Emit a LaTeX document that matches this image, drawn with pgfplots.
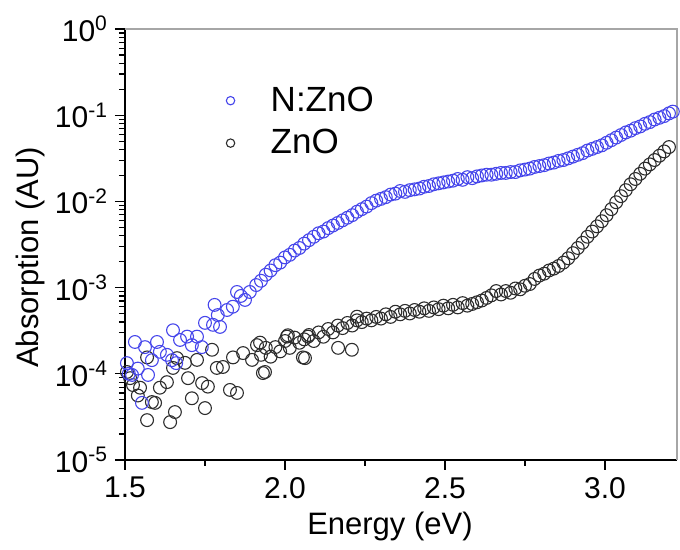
\documentclass[border=0pt]{standalone}
\usepackage{pgfplots}
\pgfplotsset{compat=1.18}
\usepackage{fontspec}
\setmainfont{Liberation Sans}
\definecolor{nzno}{RGB}{70,70,235}
\definecolor{zno}{RGB}{45,45,45}

\begin{document}
\begin{tikzpicture}
\begin{axis}[
  scale only axis, width=276pt, height=215.5pt,
  ymode=log, xmin=1.5, xmax=3.225, ymin=1e-5, ymax=1,
  axis x line*=bottom, axis y line*=left,
  axis line style={line width=0.75pt, black},
  xtick={1.5,2.0,2.5,3.0}, xticklabels={1.5,2.0,2.5,3.0},
  minor x tick num=1,
  ytick={1e-5,1e-4,1e-3,1e-2,1e-1,1},
  yticklabels={10\textsuperscript{-5},10\textsuperscript{-4},10\textsuperscript{-3},10\textsuperscript{-2},10\textsuperscript{-1},10\textsuperscript{0}},
  tick align=outside, major tick length=5pt, minor tick length=3pt,
  tick style={line width=0.6pt, black},
  ticklabel style={font=\fontsize{15}{17}\selectfont},
  xlabel={Energy (eV)}, ylabel={Absorption (AU)},
  label style={font=\fontsize{15.5}{17}\selectfont},
  xlabel style={at={(axis description cs:0.48,-0.155)}, anchor=center},
  ylabel style={at={(axis description cs:-0.172,0.47)}, anchor=center},
  reverse legend,
  legend cell align=left,
  legend style={at={(rel axis cs:0.172,0.885)}, anchor=north west, draw=none, fill=none,
    font=\fontsize{17.5}{19}\selectfont, row sep=3.5pt},
  legend image post style={mark size=2.1pt},
  clip=false,
]
\draw[gray!70, line width=0.6pt] (rel axis cs:0,1) -- (rel axis cs:1,1) -- (rel axis cs:1,0);

% ZnO
\addplot[only marks, mark=o, mark size=3.2pt, mark options={draw=zno, fill=white, line width=0.55pt}] coordinates {
(1.506,1.05e-4) (1.516,8.9e-5) (1.525,7.4e-5) (1.54,5.6e-5) (1.547,6.9e-5) (1.569,1.55e-4) (1.569,2.9e-5)
(1.584,4.7e-5) (1.594,4.6e-5) (1.609,6.9e-5) (1.631,8.0e-5) (1.641,2.75e-5) (1.65,1.17e-4) (1.656,3.6e-5)
(1.6625,1.52e-4) (1.6875,1.34e-4) (1.697,8.9e-5) (1.709,5.2e-5) (1.725,1.45e-4) (1.741,7.8e-5) (1.75,4.0e-5)
(1.759,7.1e-5) (1.772,1.9e-4) (1.787,1.17e-4) (1.806,1.2e-4) (1.828,6.5e-5) (1.8375,1.55e-4) (1.85,6.0e-5)
(1.869,1.74e-4) (1.897,1.45e-4) (1.9125,2.15e-4) (1.922,2.3e-4) (1.931,1.02e-4) (1.9375,1.05e-4)
(2.006,2.7e-4) (2.009,2.8e-4) (2.056,1.55e-4) (2.0625,1.52e-4) (2.072,2.7e-4) (2.166,2.0e-4) (2.209,1.9e-4)
(2.225,4.6e-4)
(1.925,1.66e-4) (1.94,2.00e-4) (1.955,1.58e-4) (1.97,2.04e-4) (1.985,1.82e-4) (2.00,2.40e-4) (2.015,2.00e-4)
(2.03,2.63e-4) (2.045,2.29e-4) (2.06,2.51e-4) (2.075,2.82e-4) (2.09,2.40e-4) (2.105,3.02e-4) (2.12,2.69e-4)
(2.135,3.31e-4) (2.15,3.02e-4) (2.165,3.63e-4) (2.18,3.39e-4) (2.195,3.89e-4) (2.21,3.63e-4) (2.225,4.17e-4)
(2.24,3.98e-4) (2.255,4.37e-4) (2.27,4.17e-4) (2.285,4.57e-4) (2.30,4.37e-4) (2.315,4.90e-4) (2.33,4.57e-4)
(2.345,5.25e-4) (2.36,4.90e-4) (2.375,5.37e-4) (2.39,5.01e-4) (2.405,5.50e-4) (2.42,5.25e-4) (2.435,5.75e-4)
(2.45,5.37e-4) (2.465,5.89e-4) (2.48,5.62e-4) (2.495,6.17e-4) (2.51,5.75e-4) (2.525,6.31e-4) (2.54,5.89e-4)
(2.555,6.61e-4) (2.57,6.17e-4) (2.585,6.46e-4) (2.60,6.76e-4) (2.615,7.08e-4) (2.63,7.59e-4) (2.645,8.13e-4)
(2.66,9.12e-4) (2.675,8.32e-4) (2.69,9.12e-4) (2.705,8.71e-4) (2.72,9.77e-4) (2.735,9.55e-4) (2.75,1.05e-3)
(2.765,1.10e-3) (2.78,1.26e-3) (2.795,1.38e-3) (2.81,1.45e-3) (2.825,1.58e-3) (2.84,1.66e-3) (2.855,1.78e-3)
(2.87,1.95e-3) (2.885,2.19e-3) (2.90,2.51e-3) (2.915,2.88e-3) (2.93,3.31e-3) (2.945,3.89e-3) (2.96,4.47e-3)
(2.975,5.13e-3) (2.99,5.89e-3) (3.005,6.92e-3) (3.02,8.13e-3) (3.035,9.77e-3) (3.05,1.15e-2) (3.065,1.35e-2)
(3.08,1.58e-2) (3.095,1.82e-2) (3.11,2.09e-2) (3.125,2.40e-2) (3.14,2.69e-2) (3.155,3.02e-2) (3.17,3.39e-2)
(3.185,3.80e-2) (3.20,4.27e-2)
};
\addlegendentry{\hspace{16pt}ZnO}

% N:ZnO
\addplot[only marks, mark=o, mark size=3.2pt, mark options={draw=nzno, fill=white, line width=0.55pt}] coordinates {
(1.506,1.33e-4) (1.512,1.0e-4) (1.522,9.7e-5) (1.531,2.34e-4) (1.54,1.15e-4) (1.553,4.6e-5) (1.5625,2.04e-4)
(1.572,9.7e-5) (1.584,1.44e-4) (1.60,2.34e-4) (1.609,1.8e-4) (1.631,1.66e-4) (1.647,1.44e-4) (1.65,3.2e-4)
(1.66,1.33e-4) (1.672,2.47e-4) (1.694,2.7e-4) (1.709,2.15e-4) (1.725,2.7e-4) (1.74,2.04e-4) (1.75,3.9e-4)
(1.775,3.7e-4) (1.78,6.3e-4) (1.79,4.8e-4) (1.797,3.5e-4) (1.819,5.5e-4) (1.837,6.0e-4) (1.85,8.9e-4)
(1.862,8.0e-4) (1.875,7.2e-4) (1.89,8.9e-4) (1.91,1.07e-3)
(1.925,1.20e-3) (1.94,1.41e-3) (1.955,1.58e-3) (1.97,1.82e-3) (1.985,1.95e-3) (2.00,2.24e-3) (2.015,2.40e-3)
(2.03,2.69e-3) (2.045,2.88e-3) (2.06,3.24e-3) (2.075,3.55e-3) (2.09,3.89e-3) (2.105,4.27e-3) (2.12,4.47e-3)
(2.135,4.90e-3) (2.15,5.25e-3) (2.165,5.62e-3) (2.18,6.03e-3) (2.195,6.46e-3) (2.21,6.92e-3) (2.225,7.59e-3)
(2.24,8.13e-3) (2.255,8.71e-3) (2.27,9.55e-3) (2.285,1.02e-2) (2.30,1.07e-2) (2.315,1.12e-2) (2.33,1.20e-2)
(2.345,1.23e-2) (2.36,1.32e-2) (2.375,1.29e-2) (2.39,1.35e-2) (2.405,1.38e-2) (2.42,1.41e-2) (2.435,1.48e-2)
(2.45,1.51e-2) (2.465,1.58e-2) (2.48,1.62e-2) (2.495,1.66e-2) (2.51,1.70e-2) (2.525,1.74e-2) (2.54,1.82e-2)
(2.555,1.78e-2) (2.57,1.91e-2) (2.585,1.86e-2) (2.60,1.95e-2) (2.615,2.00e-2) (2.63,2.04e-2) (2.645,2.04e-2)
(2.66,2.09e-2) (2.675,2.14e-2) (2.69,2.14e-2) (2.705,2.19e-2) (2.72,2.19e-2) (2.735,2.29e-2) (2.75,2.34e-2)
(2.765,2.40e-2) (2.78,2.51e-2) (2.795,2.57e-2) (2.81,2.63e-2) (2.825,2.75e-2) (2.84,2.82e-2) (2.855,2.95e-2)
(2.87,3.02e-2) (2.885,3.16e-2) (2.90,3.31e-2) (2.915,3.47e-2) (2.93,3.63e-2) (2.945,3.89e-2) (2.96,4.07e-2)
(2.975,4.27e-2) (2.99,4.47e-2) (3.005,4.79e-2) (3.02,5.13e-2) (3.035,5.50e-2) (3.05,5.89e-2) (3.065,6.31e-2)
(3.08,6.61e-2) (3.095,7.08e-2) (3.11,7.41e-2) (3.125,7.94e-2) (3.14,8.32e-2) (3.155,8.91e-2) (3.17,9.33e-2)
(3.185,9.77e-2) (3.20,1.05e-1) (3.212,1.10e-1)
};
\addlegendentry{\hspace{16pt}N:ZnO}
\end{axis}
\pgfresetboundingbox
\path ([xshift=-62.5pt,yshift=-45pt]current axis.south west) rectangle ([xshift=1.5pt,yshift=14.5pt]current axis.north east);
\end{tikzpicture}
\end{document}
